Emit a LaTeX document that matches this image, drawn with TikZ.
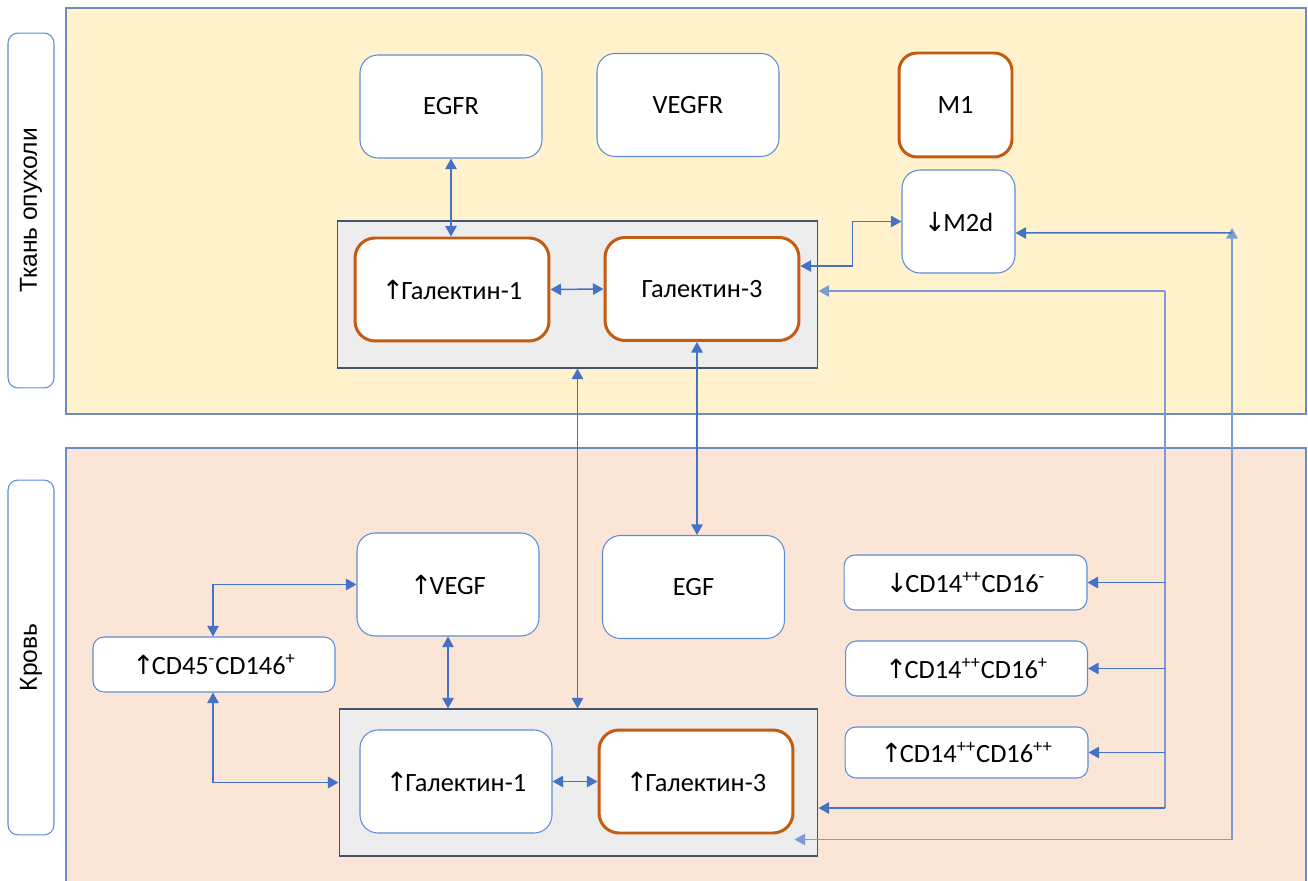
\documentclass[tikz,border=0pt]{standalone}
\usepackage{fontspec}
\setmainfont{Carlito}
\newfontfamily\sidefont{Liberation Sans}
\newfontfamily\arrfont{DejaVu Sans}
\usetikzlibrary{arrows.meta,calc,positioning}

\definecolor{tumour}{HTML}{FFF2CC}
\definecolor{blood}{HTML}{FBE5D6}
\definecolor{panelline}{HTML}{6F8CC0}
\definecolor{boxline}{HTML}{5B8ED6}
\definecolor{galline}{HTML}{C55A11}
\definecolor{grpfill}{HTML}{EDEDED}
\definecolor{grpline}{HTML}{44546A}
\definecolor{linkcol}{HTML}{4472C4}
\definecolor{buscol}{HTML}{7C9CD6}

\newcommand{\uparr}{{\arrfont\char"2191}\kern-1.5pt}
\newcommand{\dnarr}{{\arrfont\char"2193}\kern-1.5pt}

\begin{document}
\begin{tikzpicture}
        [x = 0.02cm, y = -0.02cm, >={Triangle[length=6pt, width=6.5pt]},
        font = \fontsize{15}{18}\selectfont,
        panel/.style = {draw=panelline, line width=0.6pt},
        side/.style = {rectangle, draw=boxline, fill=white, rounded corners=0.2cm, line width=0.6pt,
                       rotate=90, minimum width=7.1cm, minimum height=0.92cm,
                       font=\sidefont\fontsize{14}{16}\selectfont},
        box/.style = {rectangle, draw=boxline, fill=white, rounded corners=0.36cm, line width=0.6pt,
                      minimum width=3.64cm, minimum height=2.06cm},
        small/.style = {rectangle, draw=boxline, fill=white, rounded corners=0.22cm, line width=0.6pt,
                        minimum width=4.84cm, minimum height=1.1cm},
        gal/.style = {box, draw=galline, line width=1.7pt, rounded corners=0.4cm,
                      minimum width=3.88cm},
        group/.style = {rectangle, draw=grpline, fill=grpfill, line width=0.6pt,
                        minimum width=9.62cm, minimum height=2.94cm},
        link/.style = {linkcol, line width=0.85pt},
        bus/.style = {buscol, line width=0.9pt}]

        \useasboundingbox (0,0) rectangle (1308,881);

        %% panels
        \draw[panel, fill=tumour] (66,8) rectangle (1306,414);
        \draw[panel, fill=blood] (66,448) rectangle (1306,890);

        \node[side] (lbltumour) at (31,210.5) {Ткань опухоли};
        \node[side] (lblblood)  at (31,657.5) {Кровь};

        %% tumour tissue
        \node[box] (egfr)  at (451,106.5) {EGFR};
        \node[box] (vegfr) at (688,105)   {VEGFR};
        \node[box, draw=galline, line width=1.7pt, minimum width=2.26cm, minimum height=2.08cm] (m1) at (955.5,105) {M1};
        \node[box, minimum width=2.26cm] (m2d) at (958.5,221.5) {\dnarr M2d};

        \node[group] (topgrp) at (577.5,294.5) {};
        \node[gal] (gal1t) at (452,289.5) {\uparr Галектин-1};
        \node[gal] (gal3t) at (702,289)   {Галектин-3};

        %% blood
        \node[box] (vegf) at (448,584.5) {\uparr VEGF};
        \node[box] (egf)  at (693.5,587) {EGF};
        \node[small] (cd45) at (214,664.5) {\uparr CD45\textsuperscript{-}CD146\textsuperscript{+}};
        \node[small, minimum width=4.86cm] (cd16m)  at (965.5,582.5) {\dnarr CD14\textsuperscript{++}CD16\textsuperscript{-}};
        \node[small] (cd16p)  at (966.5,668.5) {\uparr CD14\textsuperscript{++}CD16\textsuperscript{+}};
        \node[small, minimum width=4.86cm, minimum height=1.02cm] (cd16pp) at (966.5,752.5) {\uparr CD14\textsuperscript{++}CD16\textsuperscript{++}};

        \node[group, minimum width=9.58cm] (botgrp) at (578.5,782.5) {};
        \node[box, minimum width=3.84cm] (gal1b) at (456,781.5) {\uparr Галектин-1};
        \node[gal] (gal3b) at (696,781.5) {\uparr Галектин-3};

        %% bus points
        \coordinate (bus1) at (1165,291);
        \coordinate (bus2) at (1165,808);
        \coordinate (rt)   at (1232,233);

        %% connect elements
        \draw[link, <->] (egfr.south) -- (egfr.south |- gal1t.north);
        \draw[link, <->] (gal1t.east) -- (gal3t.west);
        \draw[link, <->] ([yshift=0.46cm]gal3t.east) -- ++(52,0) |- (m2d.west);
        \draw[link, <->] ([xshift=-0.1cm]gal3t.south) -- ([xshift=-0.1cm]gal3t.south |- egf.north);
        \draw[link, <->] (topgrp.south) -- (topgrp.south |- botgrp.north);
        \draw[link, <->] (vegf.south) -- (vegf.south |- botgrp.north);
        \draw[link, <->] ([xshift=-0.02cm]cd45.north) |- (vegf.west);
        \draw[link, <->] ([xshift=-0.02cm]cd45.south) |- (botgrp.west);
        \draw[link, <->] (gal1b.east) -- (gal3b.west);

        \draw[bus, ->] (bus1) -- (bus1 -| topgrp.east);
        \draw[bus] (bus1) -- (bus2);
        \draw[link, ->] (bus2) -- (bus2 -| botgrp.east);
        \draw[link, ->] (bus1 |- cd16m.east) -- (cd16m.east);
        \draw[link, ->] (bus1 |- cd16p.east) -- (cd16p.east);
        \draw[link, ->] (bus1 |- cd16pp.east) -- (cd16pp.east);

        \draw[bus, <->] ([yshift=-0.1cm]gal3b.south east) -| ([yshift=0.1cm]rt);
        \draw[link, ->] (rt) -- ([yshift=-0.23cm]m2d.east);
    \end{tikzpicture}
\end{document}
